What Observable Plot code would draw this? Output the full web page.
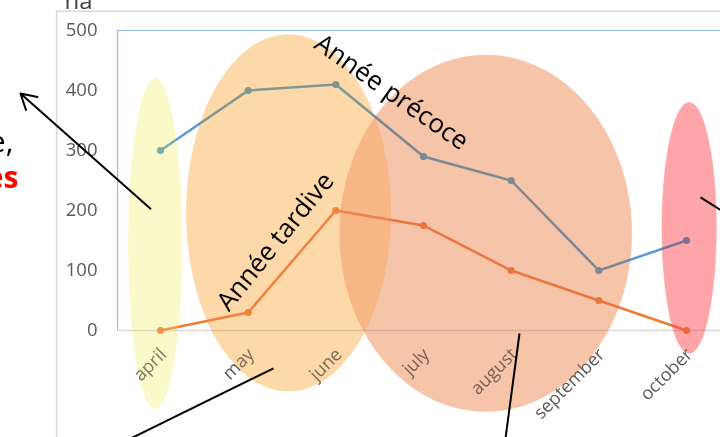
<!DOCTYPE html>
<html><head><meta charset="utf-8">
<script src="https://cdn.jsdelivr.net/npm/d3@7"></script>
<script src="https://cdn.jsdelivr.net/npm/@observablehq/plot@0.6"></script>
<style>html,body{margin:0;padding:0;background:#fff;overflow:hidden}</style>
</head><body><div id="chart"></div>
<script>
// ---- data ----
const months = ["april","may","june","july","august","september","october"];
const precoce = [300, 400, 410, 290, 250, 100, 150];   // Année précoce (ha)
const tardive = [0, 30, 200, 175, 100, 50, 0];          // Année tardive (ha)
const yTicks = [0, 100, 200, 300, 400, 500];
const unitLabel = "ha";

// highlight ellipses (x in month index units, y in ha)
const ellipseCx = [-0.06, 1.46, 3.71, 6.03];
const ellipseCy = [145, 196, 162, 171];
const ellipseRx = [0.305, 1.165, 1.665, 0.31];
const ellipseRy = [275, 297, 297, 209];
const ellipseColor = ["#fcf9c9", "#fdd9a9", "#f6c5a9", "#fea6a9"];

// annotations
const noteText = ["Année précoce", "Année tardive"];
const noteX = [2.635, 1.312];
const noteY = [397, 148];
const noteAngle = [35, -51];

const table = months.map((m, i) => ({month: m, i, precoce: precoce[i], tardive: tardive[i]}));

const ellipsePts = ellipseCx.map((cx, k) =>
  d3.range(120).map(j => {
    const t = (j / 120) * 2 * Math.PI;
    return {x: cx + ellipseRx[k] * Math.cos(t), y: ellipseCy[k] + ellipseRy[k] * Math.sin(t)};
  })
);

const blackLines = [
  {x1: 1.289, y1: -63, x2: -0.34, y2: -180},
  {x1: 4.095, y1: -5, x2: 3.935, y2: -180},
  {x1: 6.16, y1: 222, x2: 6.42, y2: 198}
];
const arrowLines = [{x1: -0.114, y1: 203, x2: -1.597, y2: 395}];

const frameGray = "#d9d9d9";

const plot = Plot.plot({
  width: 720, height: 437,
  marginLeft: 117, marginTop: 30, marginBottom: 107, marginRight: 0,
  x: {type: "linear", domain: [0, 6], range: [160, 686], axis: null},
  y: {domain: [0, 500], range: [330, 30]},
  style: {fontFamily: "'Open Sans', sans-serif", background: "white", overflow: "hidden"},
  marks: [
    // outer chart frame
    Plot.ruleX([-1.186], {y1: 532, y2: -190, stroke: frameGray, strokeWidth: 1.5}),
    Plot.ruleY([532], {x1: -1.186, x2: 7, stroke: frameGray, strokeWidth: 1.5}),
    // plot area border (blue) and baseline
    Plot.ruleX([-0.49], {y1: 0, y2: 500, stroke: "#8fb9e6", strokeWidth: 1.2}),
    Plot.ruleY([500], {x1: -0.49, x2: 7, stroke: "#8fb9e6", strokeWidth: 1.2}),
    Plot.ruleY([0], {x1: -0.49, x2: 7, stroke: frameGray, strokeWidth: 1.5}),
    Plot.axisY({ticks: yTicks, tickSize: 0, tickPadding: 20, label: null, fontSize: 18.5, color: "#595959"}),
    Plot.text([unitLabel], {x: -1.095, y: 549, textAnchor: "start", fontSize: 24, fill: "#404040"}),
    // month labels
    Plot.text(table, {x: "i", text: "month", frameAnchor: "bottom", dx: 7, dy: 25, rotate: -45, textAnchor: "end", fontSize: 18, fill: "#595959"}),
    // series
    Plot.line(table, {x: "i", y: "precoce", stroke: "#5b9bd5", strokeWidth: 2.5}),
    Plot.dot(table, {x: "i", y: "precoce", r: 3.6, fill: "#5b9bd5", stroke: "none"}),
    Plot.line(table, {x: "i", y: "tardive", stroke: "#ed7d31", strokeWidth: 2.5}),
    Plot.dot(table, {x: "i", y: "tardive", r: 3.6, fill: "#ed7d31", stroke: "none"}),
    // ellipses (multiply over the chart, plus a light normal wash)
    ...ellipsePts.map((pts, k) => Plot.line(pts, {x: "x", y: "y", fill: ellipseColor[k], stroke: ellipseColor[k], strokeWidth: 0.5, curve: "linear-closed", ariaDescription: "ellipse", mixBlendMode: "multiply"})),
    ...ellipsePts.map((pts, k) => Plot.line(pts, {x: "x", y: "y", fill: ellipseColor[k], fillOpacity: 0.22, stroke: "none", strokeWidth: 0, curve: "linear-closed"})),
    // annotation texts
    ...noteText.map((t, k) => Plot.text([t], {x: noteX[k], y: noteY[k], rotate: noteAngle[k], fontSize: 26, fill: "black"})),
    Plot.text(["e,"], {x: -1.677, y: 314, textAnchor: "end", fontSize: 30, fill: "black"}),
    Plot.text(["es"], {x: -1.62, y: 254, textAnchor: "end", fontSize: 30, fontWeight: "bold", fill: "#ff0000"}),
    // black pointer lines
    Plot.link(blackLines, {x1: "x1", y1: "y1", x2: "x2", y2: "y2", stroke: "black", strokeWidth: 2}),
    Plot.arrow(arrowLines, {x1: "x1", y1: "y1", x2: "x2", y2: "y2", stroke: "black", strokeWidth: 2, headLength: 13, bend: 0})
  ]
});
plot.querySelectorAll('g[aria-description="ellipse"]').forEach(g => g.style.mixBlendMode = "multiply");
document.getElementById("chart").appendChild(plot);
</script>
</body></html>
